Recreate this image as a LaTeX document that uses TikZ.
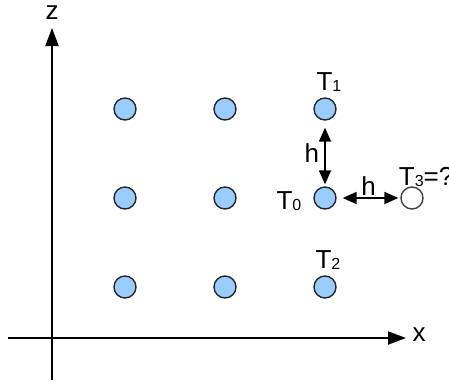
\documentclass[tikz,border=0pt]{standalone}
\usepackage{fontspec}
\setmainfont{Liberation Sans}
\usetikzlibrary{arrows.meta}

\definecolor{dotblue}{HTML}{99CCFF}
\newcommand{\lsub}[1]{\raisebox{-1pt}{\fontsize{16}{16}\selectfont #1}}

\begin{document}
\begin{tikzpicture}[x=1pt, y=-1pt, >={Triangle[length=14pt, width=12pt]},
	font=\fontsize{26}{30}\selectfont]
	\tikzstyle{format} = [draw=black!85, line width=1.4pt, circle, fill=dotblue,
	minimum size=22pt, inner sep=0pt]
	\tikzstyle{empty} = [format, fill=white, draw=black!75]
	\tikzstyle{axis} = [line width=2pt, -{Triangle[length=18pt, width=13pt]}]
	\useasboundingbox (0,0) rectangle (449,383);

	% axes
	\coordinate (zb) at (52,380);
	\coordinate (zt) at (52,28);
	\coordinate (xl) at (8,338);
	\coordinate (xr) at (406,338);
	\draw[axis] (zb) -- (zt);
	\draw[axis] (xl) -- (xr);
	\node (zl) at (52,13) {z};
	\node (xlab) at (419,335) {x};

	% grid of points
	\path[<->, line width=1.8pt, node distance=100pt]
		node[format] at (125,109) (a1) {}
		node[format, right of=a1] (a2) {}
		node[format, right of=a2] (t1) {}
		node[format, below of=a1, node distance=89pt] (b1) {}
		node[format, right of=b1] (b2) {}
		node[format, right of=b2] (t0) {}
		node[format, below of=b1, node distance=89pt] (d1) {}
		node[format, right of=d1] (d2) {}
		node[format, right of=d2] (t2) {}
		node[empty, right of=t0, node distance=87pt] (t3) {}
		(t1) edge[shorten <=7pt, shorten >=2pt] node[left, inner sep=5pt] {h} (t0)
		(t0) edge[shorten <=6pt, shorten >=2pt] node[above, inner sep=2pt] {h} (t3)
		node[above of=t1, node distance=27pt, xshift=4pt] (l1) {T\lsub{1}}
		node[above of=t2, node distance=27pt, xshift=3pt] (l2) {T\lsub{2}}
		node[left of=t0, node distance=36pt, yshift=-3pt] (l0) {T\lsub{0}}
		node[anchor=south west, inner sep=0pt] at (398,188) (l3) {T\lsub{3}=?}
		;

\end{tikzpicture}
\end{document}
